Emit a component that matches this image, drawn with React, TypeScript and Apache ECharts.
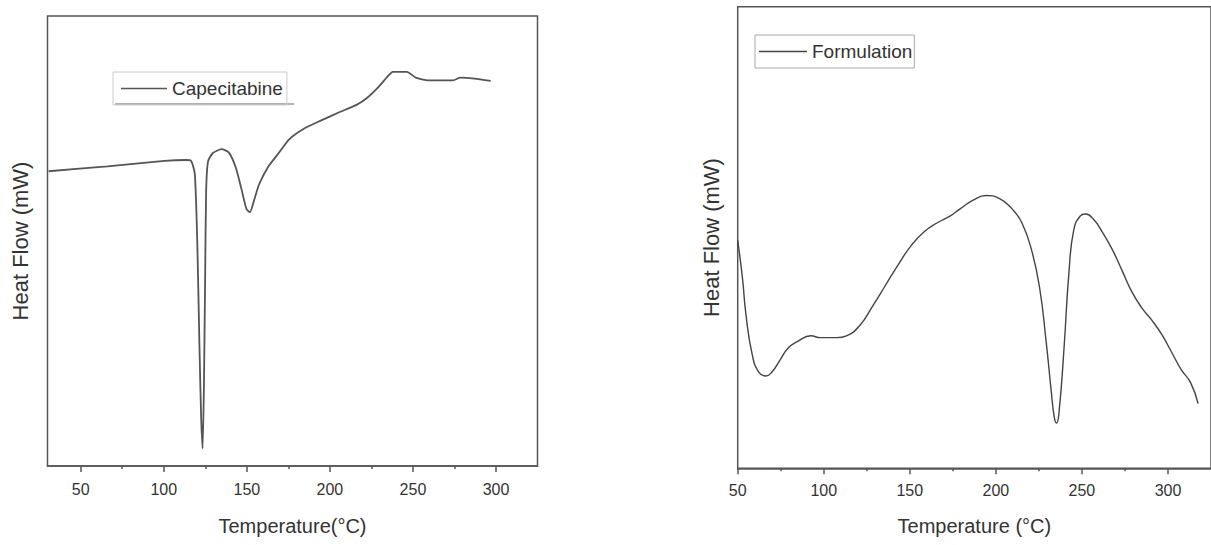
import React, { useEffect, useRef } from "react";
import * as echarts from "echarts";

// Capecitabine DSC (left panel)
const capTemp = [30.7, 66.1, 100.4, 113.3, 116.5, 118.7, 120.2, 121.5, 122.5, 123.4, 124.2, 124.9, 125.5, 126.6, 129.4, 134.8, 139.1, 143.3, 146.6, 149.8, 151.9, 154.1, 157.3, 162.7, 169.1, 175.5, 184.1, 194.8, 205.6, 216.3, 222.7, 229.2, 235.6, 237.8, 246.4, 251.7, 259.2, 274.2, 278.5, 287.1, 296.8];
const capFlow = [65.5, 66.6, 67.8, 68.0, 67.8, 64.9, 49.4, 26.3, 10.8, 3.9, 18.5, 41.7, 61.0, 67.6, 69.5, 70.4, 69.7, 66.4, 61.8, 57.1, 56.4, 58.7, 62.5, 66.4, 69.5, 72.6, 74.9, 76.8, 78.6, 80.3, 81.9, 84.2, 86.9, 87.6, 87.6, 86.3, 85.7, 85.7, 86.3, 86.1, 85.6];

// Formulation DSC (right panel)
const formTemp = [50, 52.8, 54.7, 58.5, 62.3, 66.4, 69.8, 74.5, 79.2, 84.9, 92.5, 98.1, 107.5, 113.2, 120.8, 128.3, 135.8, 143.4, 150.9, 158.5, 166.0, 173.6, 179.2, 186.8, 194.3, 201.9, 209.4, 215.1, 220.8, 225.5, 229.2, 232.1, 234.0, 235.3, 236.8, 239.6, 242.5, 245.3, 249.1, 251.9, 256.6, 262.3, 267.9, 273.6, 279.2, 284.9, 290.6, 296.2, 301.9, 307.5, 313.2, 317.5];
const formFlow = [49.4, 41.1, 33.6, 24.5, 20.8, 20.0, 20.8, 23.4, 26.0, 27.5, 28.7, 28.3, 28.3, 28.7, 30.9, 35.1, 39.6, 44.2, 48.3, 51.3, 53.2, 54.7, 56.2, 58.1, 59.1, 58.5, 56.2, 53.2, 47.2, 38.9, 27.5, 17.0, 10.9, 9.8, 12.5, 26.0, 42.6, 51.7, 54.7, 55.1, 54.0, 50.9, 47.2, 42.6, 38.1, 34.7, 32.1, 29.1, 25.3, 21.5, 18.5, 14.0];

const majorTicks = [50, 100, 150, 200, 250, 300];
const minorTicks = [75, 125, 175, 225, 275];

const FONT = "Liberation Sans, Arial, sans-serif";
const AX = "#555";
const TXT = "#333";

export default function App() {
  const ref = useRef<HTMLDivElement>(null);
  useEffect(() => {
    if (!ref.current) return;
    const chart = echarts.init(ref.current, undefined, { renderer: "svg" });
    const zip = (xs: number[], ys: number[]) => xs.map((x, i) => [x, ys[i]]);

    const mainX = (grid: number, min: number, name: string, gap: number, margin: number) => ({
      gridIndex: grid,
      type: "value",
      min,
      max: 325,
      position: "bottom",
      name,
      nameLocation: "middle",
      nameGap: gap,
      nameTextStyle: { fontSize: 20, color: TXT, fontFamily: FONT },
      axisLine: { show: true, lineStyle: { color: AX, width: 1.5 } },
      axisTick: { show: true, inside: false, length: 6, customValues: majorTicks, lineStyle: { color: AX, width: 1.5 } },
      axisLabel: { customValues: majorTicks, margin, fontSize: 16, color: TXT, fontFamily: FONT },
      splitLine: { show: false },
    });
    const minorX = (grid: number, min: number) => ({
      gridIndex: grid,
      type: "value",
      min,
      max: 325,
      position: "bottom",
      axisLine: { show: false },
      axisTick: { show: true, inside: false, length: 3, customValues: minorTicks, lineStyle: { color: AX, width: 1.5 } },
      axisLabel: { show: false },
      splitLine: { show: false },
    });
    const yAx = (grid: number, gap: number) => ({
      gridIndex: grid,
      type: "value",
      min: 0,
      max: 100,
      name: "Heat Flow (mW)",
      nameLocation: "middle",
      nameGap: gap,
      nameTextStyle: { fontSize: 22, color: TXT, fontFamily: FONT },
      axisLine: { show: false },
      axisTick: { show: false },
      axisLabel: { show: false },
      splitLine: { show: false },
    });

    chart.setOption({
      animation: false,
      backgroundColor: "#fff",
      grid: [
        { left: 47.5, top: 16, width: 490, height: 450, show: true, borderColor: AX, borderWidth: 1.5 },
        { left: 737.7, top: 6.7, width: 488, height: 461.6, show: true, borderColor: AX, borderWidth: 1.5 },
      ],
      xAxis: [
        mainX(0, 30, "Temperature(°C)", 50, 15),
        minorX(0, 30),
        mainX(1, 50, "Temperature (°C)", 48, 14.5),
        minorX(1, 50),
      ],
      yAxis: [yAx(0, 16), yAx(1, 15)],
      legend: [
        {
          data: ["Capecitabine"],
          left: 113,
          top: 72,
          padding: [7, 4, 7, 8],
          icon: "rect",
          itemWidth: 46,
          itemHeight: 1.6,
          selectedMode: false,
          borderColor: "#ccc",
          borderWidth: 1,
          textStyle: { fontSize: 19, color: TXT, fontFamily: FONT },
        },
        {
          data: ["Formulation"],
          left: 755,
          top: 35,
          padding: [7, 2, 7, 4],
          icon: "rect",
          itemWidth: 48,
          itemHeight: 1.3,
          selectedMode: false,
          borderColor: "#aaa",
          borderWidth: 1,
          textStyle: { fontSize: 19, color: TXT, fontFamily: FONT },
        },
      ],
      graphic: [
        { type: "line", shape: { x1: 115, y1: 104, x2: 294, y2: 104 }, style: { stroke: "#999", lineWidth: 1.5 } },
      ],
      series: [
        {
          name: "Capecitabine",
          type: "line",
          xAxisIndex: 0,
          yAxisIndex: 0,
          symbol: "none",
          smooth: 0.2,
          data: zip(capTemp, capFlow),
          lineStyle: { color: "#555", width: 1.8 },
          itemStyle: { color: "#555" },
        },
        {
          name: "Formulation",
          type: "line",
          xAxisIndex: 2,
          yAxisIndex: 1,
          symbol: "none",
          smooth: 0.5,
          data: zip(formTemp, formFlow),
          lineStyle: { color: "#444", width: 1.4 },
          itemStyle: { color: "#444" },
        },
      ],
    });
    return () => chart.dispose();
  }, []);
  return <div ref={ref} style={{ position: "fixed", left: 0, top: 0, width: 1211, height: 545 }} />;
}
